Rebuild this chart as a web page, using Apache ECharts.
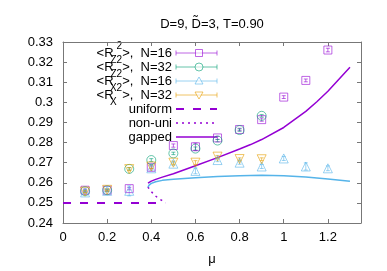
<!DOCTYPE html>
<html><head><meta charset="utf-8">
<script src="https://cdn.jsdelivr.net/npm/echarts@6/dist/echarts.min.js"></script>
<style>html,body{margin:0;padding:0;background:#fff}#c{width:387px;height:271px}</style>
</head><body><div id="c"></div>
<script>
// ---- data ----
const muN16 = [0.1,0.2,0.3,0.4,0.5,0.6,0.7,0.8,0.9,1.0,1.1,1.2];
const muN32 = [0.1,0.2,0.3,0.4,0.5,0.6,0.7,0.8,0.9];
const rz16 = [0.2563,0.2563,0.2571,0.2677,0.2785,0.2779,0.2823,0.2865,0.2914,0.3026,0.3109,0.3260];
const rz16Err = [0.0006,0.0005,0.0006,0.0008,0.0008,0.0018,0.0008,0.0006,0.0008,0.0007,0.0007,0.0009];
const rz32 = [0.2558,0.2563,0.2669,0.2713,0.2746,0.2770,0.2810,0.2862,0.2933];
const rz32Err = [0.0006,0.0005,0.0006,0.0007,0.0006,0.0008,0.0006,0.0006,0.0006];
const rx16 = [0.2552,0.2560,0.2560,0.2672,0.2695,0.2659,0.2713,0.2700,0.2681,0.2721,0.2681,0.2672];
const rx16Err = [0.0008,0.0006,0.0025,0.0012,0.0008,0.0014,0.0008,0.0008,0.0010,0.0010,0.0018,0.0012];
const rx32 = [0.2556,0.2565,0.2668,0.2681,0.2700,0.2700,0.2730,0.2718,0.2717];
const rx32Err = [0.0006,0.0005,0.0008,0.0010,0.0008,0.0010,0.0006,0.0006,0.0007];

const uniformMu = [0, 0.425];
const uniformY = [0.25, 0.25];
const nonuniMu = [0.385,0.39,0.40,0.415,0.432,0.448,0.465];
const nonuniY = [0.2580,0.2570,0.2557,0.2538,0.2523,0.2512,0.2500];
const gappedMu = [0.385,0.40,0.42,0.45,0.5,0.6,0.7,0.8,0.85,0.9,1.0,1.1,1.15,1.2,1.3];
const gappedY = [0.2598,0.2608,0.2617,0.2628,0.2645,0.2685,0.2725,0.2768,0.2790,0.2815,0.2875,0.2955,0.3003,0.3055,0.3175];
const gappedXMu = [0.385,0.39,0.40,0.42,0.45,0.5,0.6,0.7,0.8,0.9,1.0,1.1,1.2,1.3];
const gappedXY = [0.2578,0.2588,0.2597,0.2605,0.2612,0.2618,0.2625,0.2631,0.2635,0.2637,0.2635,0.2629,0.2619,0.2607];

const xTicks = [0,0.2,0.4,0.6,0.8,1,1.2];
const titleText = 'D=9, D\u0303=3, T=0.90';
const legendLabels = [
  '<R{sub|Z}{sup|2}>,  N=16',
  '<R{sub|Z}{sup|2}>,  N=32',
  '<R{sub|X}{sup|2}>,  N=16',
  '<R{sub|X}{sup|2}>,  N=32',
  'uniform','non-uni','gapped'
];

// ---- style ----
const FONT = 'Liberation Sans, Arial, sans-serif';
const C_V = '#9400d3', C_G = '#009e73', C_B = '#56b4e9', C_O = '#e69f00';
const AX = '#777777';
const MOP = 0.6;

function pairs(xs, ys){ return xs.map((x,i)=>[x, ys[i]]); }
function triples(xs, ys, es){ return xs.map((x,i)=>[x, ys[i], es[i]]); }

function errBar(color){
  return function(params, api){
    const x=api.value(0), y=api.value(1), e=api.value(2);
    const lo=api.coord([x,y-e]), hi=api.coord([x,y+e]);
    const w=2, st={stroke:color,lineWidth:1,opacity:MOP};
    return {type:'group', children:[
      {type:'line', shape:{x1:lo[0],y1:lo[1],x2:hi[0],y2:hi[1]}, style:st},
      {type:'line', shape:{x1:lo[0]-w,y1:lo[1],x2:lo[0]+w,y2:lo[1]}, style:st},
      {type:'line', shape:{x1:hi[0]-w,y1:hi[1],x2:hi[0]+w,y2:hi[1]}, style:st}
    ]};
  };
}
function errSeries(xs, ys, es, color){
  return {type:'custom', renderItem: errBar(color), data: triples(xs,ys,es),
    encode:{x:0,y:1}, silent:true, animation:false, z:3};
}
function pts(xs, ys, color, symbol, size, rot){
  return {type:'scatter', data: pairs(xs,ys), symbol, symbolSize:size, symbolRotate: rot||0,
    itemStyle:{color:'rgba(0,0,0,0)', borderColor:color, borderWidth:1, opacity:MOP},
    silent:true, animation:false, z:4};
}
function ln(xs, ys, color, width, type){
  return {type:'line', data: pairs(xs,ys), showSymbol:false, symbol:'none',
    lineStyle:{color, width, type}, silent:true, animation:false, z:2};
}

// ---- legend graphics ----
const LX = 172, LS0 = 176, LS1 = 217, LM = 199, LY0 = 53, LDY = 14;
const rich = {
  sub:{fontSize:10, fontFamily:FONT, verticalAlign:'bottom', lineHeight:17, width:3, color:'#000'},
  sup:{fontSize:10, fontFamily:FONT, verticalAlign:'top', lineHeight:11, color:'#000'}
};
const graphics = [];
graphics.push({type:'text', x:212, y:24, style:{text:titleText, align:'center', verticalAlign:'middle',
  font:'13px '+FONT, fill:'#000'}});
const legColors = [C_V, C_G, C_B, C_O, C_V, C_V, C_V];
legendLabels.forEach((lab, i) => {
  const y = LY0 + LDY*i;
  graphics.push({type:'text', x:LX, y:y, style:{text:lab, align:'right', verticalAlign:'middle',
    fontSize:13, fontFamily:FONT, fill:'#000', lineHeight:24, rich}});
  const c = legColors[i];
  if (i < 4) {
    const st = {stroke:c, lineWidth:1, fill:null, opacity:MOP};
    graphics.push({type:'line', shape:{x1:LS0,y1:y,x2:LS1,y2:y}, style:st});
    graphics.push({type:'line', shape:{x1:LS0,y1:y-2.5,x2:LS0,y2:y+2.5}, style:st});
    graphics.push({type:'line', shape:{x1:LS1,y1:y-2.5,x2:LS1,y2:y+2.5}, style:st});
    const mst = {stroke:c, lineWidth:1, fill:'#fff', opacity:MOP};
    if (i===0) graphics.push({type:'rect', shape:{x:LM-3.5,y:y-3.5,width:7,height:7}, style:mst});
    if (i===1) graphics.push({type:'circle', shape:{cx:LM,cy:y,r:4}, style:mst});
    if (i===2) graphics.push({type:'polygon', shape:{points:[[LM,y-4],[LM+4,y+3],[LM-4,y+3]]}, style:mst});
    if (i===3) graphics.push({type:'polygon', shape:{points:[[LM,y+4],[LM+4,y-3],[LM-4,y-3]]}, style:mst});
  } else {
    const dash = i===4 ? [8,9] : (i===5 ? [2,4] : null);
    graphics.push({type:'line', shape:{x1:LS0,y1:y,x2:LS1,y2:y},
      style:{stroke:c, lineWidth: i===4?2:1.5, lineDash: dash}});
  }
});

const axisCommon = {
  axisLine:{show:true, onZero:false, lineStyle:{color:AX, width:1}},
  axisTick:{show:true, inside:true, length:4, lineStyle:{color:AX}},
  splitLine:{show:false}
};
const xFmt = v => xTicks.some(t => Math.abs(t - v) < 1e-6) ? String(+v.toFixed(1)) : '';

const option = {
  animation:false,
  grid:{left:63, right:26, top:42, bottom:45, containLabel:false},
  xAxis:[
    Object.assign({type:'value', min:0, max:1.35, interval:0.2, position:'bottom',
      name:'\u03bc', nameLocation:'middle', nameGap:30,
      nameTextStyle:{fontSize:13, fontFamily:FONT, color:'#000'},
      axisLabel:{fontSize:13, fontFamily:FONT, color:'#000', margin:8, formatter:xFmt, showMaxLabel:true}}, axisCommon),
    Object.assign({type:'value', min:0, max:1.35, interval:0.2, position:'top',
      axisLabel:{show:false}}, axisCommon)
  ],
  yAxis:[
    Object.assign({type:'value', min:0.24, max:0.33, interval:0.01, position:'left',
      axisLabel:{fontSize:13, fontFamily:FONT, color:'#000', margin:10,
        formatter: v => String(+v.toFixed(2))}}, axisCommon),
    Object.assign({type:'value', min:0.24, max:0.33, interval:0.01, position:'right',
      axisLabel:{show:false}}, axisCommon)
  ],
  series:[
    ln(uniformMu, uniformY, C_V, 2, [8,9]),
    ln(nonuniMu, nonuniY, C_V, 1.5, [2,4]),
    ln(gappedMu, gappedY, C_V, 1.5, 'solid'),
    ln(gappedXMu, gappedXY, C_B, 1.5, 'solid'),
    errSeries(muN16, rz16, rz16Err, C_V),
    errSeries(muN32, rz32, rz32Err, C_G),
    errSeries(muN16, rx16, rx16Err, C_B),
    errSeries(muN32, rx32, rx32Err, C_O),
    pts(muN16, rz16, C_V, 'rect', 8),
    pts(muN32, rz32, C_G, 'circle', 9),
    pts(muN16, rx16, C_B, 'triangle', 9),
    pts(muN32, rx32, C_O, 'triangle', 9, 180)
  ],
  graphic: graphics
};
const chart = echarts.init(document.getElementById('c'), null, {renderer:'canvas'});
chart.setOption(option);
</script>
</body></html>
